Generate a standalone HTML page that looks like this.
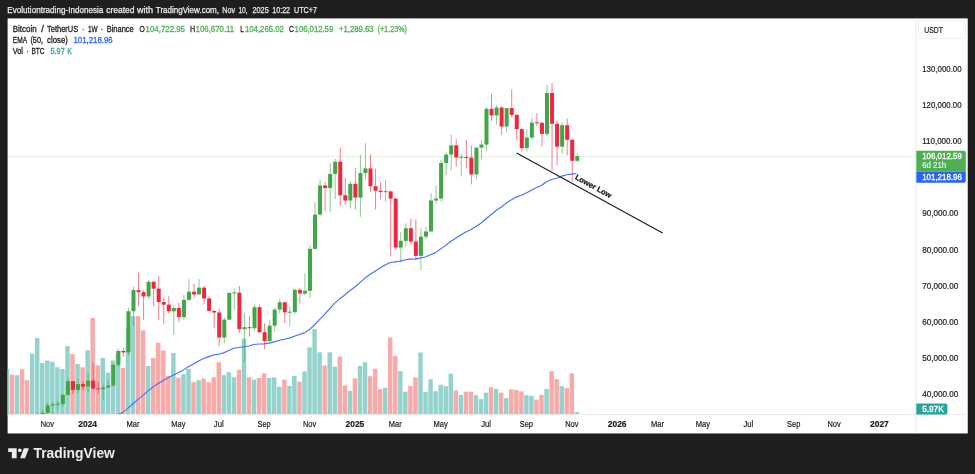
<!DOCTYPE html>
<html lang="en"><head><meta charset="utf-8"><title>BTCUSDT 1W chart</title>
<style>html,body{margin:0;padding:0;background:#1f1f1f;overflow:hidden}svg{display:block}</style></head>
<body>
<svg width="975" height="474" viewBox="0 0 975 474" font-family="'Liberation Sans', sans-serif">
<rect x="0" y="0" width="975" height="474" fill="#1f1f1f"/>
<rect x="7.6" y="18.4" width="960.15" height="415.05" fill="#ffffff"/>
<clipPath id="pane"><rect x="7.6" y="18.4" width="908.4" height="396.1"/></clipPath>
<g clip-path="url(#pane)">
<line x1="7.6" x2="916" y1="156.4" y2="156.4" stroke="#4caf50" stroke-opacity="0.45" stroke-width="0.6" stroke-dasharray="1.7 0.95"/>
<g shape-rendering="auto">
<rect x="4.74" y="369.24" width="4.45" height="45.26" fill="#93d2cd"/>
<rect x="9.78" y="374.72" width="4.45" height="39.78" fill="#f8aaa8"/>
<rect x="14.82" y="375.22" width="4.45" height="39.28" fill="#93d2cd"/>
<rect x="19.87" y="369.24" width="4.45" height="45.26" fill="#f8aaa8"/>
<rect x="24.91" y="380.20" width="4.45" height="34.30" fill="#f8aaa8"/>
<rect x="29.95" y="353.55" width="4.45" height="60.95" fill="#93d2cd"/>
<rect x="35.00" y="338.11" width="4.45" height="76.39" fill="#93d2cd"/>
<rect x="40.04" y="363.01" width="4.45" height="51.49" fill="#93d2cd"/>
<rect x="45.08" y="360.52" width="4.45" height="53.98" fill="#93d2cd"/>
<rect x="50.12" y="361.77" width="4.45" height="52.73" fill="#93d2cd"/>
<rect x="55.17" y="367.25" width="4.45" height="47.25" fill="#93d2cd"/>
<rect x="60.21" y="368.99" width="4.45" height="45.51" fill="#93d2cd"/>
<rect x="65.25" y="346.08" width="4.45" height="68.42" fill="#93d2cd"/>
<rect x="70.30" y="354.05" width="4.45" height="60.45" fill="#f8aaa8"/>
<rect x="75.34" y="364.01" width="4.45" height="50.49" fill="#93d2cd"/>
<rect x="80.38" y="367.25" width="4.45" height="47.25" fill="#f8aaa8"/>
<rect x="85.42" y="350.31" width="4.45" height="64.19" fill="#93d2cd"/>
<rect x="90.47" y="317.93" width="4.45" height="96.57" fill="#f8aaa8"/>
<rect x="95.51" y="365.50" width="4.45" height="49.00" fill="#f8aaa8"/>
<rect x="100.55" y="358.03" width="4.45" height="56.47" fill="#93d2cd"/>
<rect x="105.60" y="372.73" width="4.45" height="41.77" fill="#93d2cd"/>
<rect x="110.64" y="360.52" width="4.45" height="53.98" fill="#93d2cd"/>
<rect x="115.68" y="353.55" width="4.45" height="60.95" fill="#93d2cd"/>
<rect x="120.73" y="368.00" width="4.45" height="46.50" fill="#f8aaa8"/>
<rect x="125.77" y="328.64" width="4.45" height="85.86" fill="#93d2cd"/>
<rect x="130.81" y="316.19" width="4.45" height="98.31" fill="#93d2cd"/>
<rect x="135.85" y="316.19" width="4.45" height="98.31" fill="#f8aaa8"/>
<rect x="140.90" y="330.39" width="4.45" height="84.11" fill="#f8aaa8"/>
<rect x="145.94" y="366.00" width="4.45" height="48.50" fill="#93d2cd"/>
<rect x="150.98" y="358.03" width="4.45" height="56.47" fill="#f8aaa8"/>
<rect x="156.03" y="342.84" width="4.45" height="71.66" fill="#f8aaa8"/>
<rect x="161.07" y="350.56" width="4.45" height="63.94" fill="#f8aaa8"/>
<rect x="166.11" y="375.97" width="4.45" height="38.53" fill="#f8aaa8"/>
<rect x="171.16" y="353.05" width="4.45" height="61.45" fill="#93d2cd"/>
<rect x="176.20" y="377.71" width="4.45" height="36.79" fill="#f8aaa8"/>
<rect x="181.24" y="374.22" width="4.45" height="40.28" fill="#93d2cd"/>
<rect x="186.28" y="368.99" width="4.45" height="45.51" fill="#93d2cd"/>
<rect x="191.33" y="382.19" width="4.45" height="32.31" fill="#f8aaa8"/>
<rect x="196.37" y="380.20" width="4.45" height="34.30" fill="#93d2cd"/>
<rect x="201.41" y="378.46" width="4.45" height="36.04" fill="#f8aaa8"/>
<rect x="206.46" y="382.19" width="4.45" height="32.31" fill="#f8aaa8"/>
<rect x="211.50" y="377.21" width="4.45" height="37.29" fill="#f8aaa8"/>
<rect x="216.54" y="362.27" width="4.45" height="52.23" fill="#f8aaa8"/>
<rect x="221.59" y="375.22" width="4.45" height="39.28" fill="#93d2cd"/>
<rect x="226.63" y="372.23" width="4.45" height="42.27" fill="#93d2cd"/>
<rect x="231.67" y="377.21" width="4.45" height="37.29" fill="#93d2cd"/>
<rect x="236.72" y="369.74" width="4.45" height="44.76" fill="#f8aaa8"/>
<rect x="241.76" y="338.61" width="4.45" height="75.89" fill="#93d2cd"/>
<rect x="246.80" y="377.21" width="4.45" height="37.29" fill="#f8aaa8"/>
<rect x="251.84" y="379.70" width="4.45" height="34.80" fill="#93d2cd"/>
<rect x="256.89" y="377.96" width="4.45" height="36.54" fill="#f8aaa8"/>
<rect x="261.93" y="373.47" width="4.45" height="41.03" fill="#f8aaa8"/>
<rect x="266.97" y="377.96" width="4.45" height="36.54" fill="#93d2cd"/>
<rect x="272.02" y="377.46" width="4.45" height="37.04" fill="#93d2cd"/>
<rect x="277.06" y="386.67" width="4.45" height="27.83" fill="#93d2cd"/>
<rect x="282.10" y="379.70" width="4.45" height="34.80" fill="#f8aaa8"/>
<rect x="287.14" y="385.93" width="4.45" height="28.57" fill="#93d2cd"/>
<rect x="292.19" y="375.97" width="4.45" height="38.53" fill="#93d2cd"/>
<rect x="297.23" y="381.69" width="4.45" height="32.81" fill="#f8aaa8"/>
<rect x="302.27" y="371.48" width="4.45" height="43.02" fill="#93d2cd"/>
<rect x="307.32" y="347.32" width="4.45" height="67.18" fill="#93d2cd"/>
<rect x="312.36" y="329.14" width="4.45" height="85.36" fill="#93d2cd"/>
<rect x="317.40" y="352.30" width="4.45" height="62.20" fill="#93d2cd"/>
<rect x="322.45" y="365.50" width="4.45" height="49.00" fill="#f8aaa8"/>
<rect x="327.49" y="352.30" width="4.45" height="62.20" fill="#93d2cd"/>
<rect x="332.53" y="366.75" width="4.45" height="47.75" fill="#93d2cd"/>
<rect x="337.57" y="356.54" width="4.45" height="57.96" fill="#f8aaa8"/>
<rect x="342.62" y="385.43" width="4.45" height="29.07" fill="#f8aaa8"/>
<rect x="347.66" y="390.91" width="4.45" height="23.59" fill="#93d2cd"/>
<rect x="352.70" y="378.46" width="4.45" height="36.04" fill="#f8aaa8"/>
<rect x="357.75" y="366.00" width="4.45" height="48.50" fill="#93d2cd"/>
<rect x="362.79" y="362.27" width="4.45" height="52.23" fill="#93d2cd"/>
<rect x="367.83" y="376.21" width="4.45" height="38.29" fill="#f8aaa8"/>
<rect x="372.88" y="368.74" width="4.45" height="45.76" fill="#f8aaa8"/>
<rect x="377.92" y="389.17" width="4.45" height="25.33" fill="#f8aaa8"/>
<rect x="382.96" y="387.67" width="4.45" height="26.83" fill="#93d2cd"/>
<rect x="388.00" y="337.36" width="4.45" height="77.14" fill="#f8aaa8"/>
<rect x="393.05" y="356.04" width="4.45" height="58.46" fill="#f8aaa8"/>
<rect x="398.09" y="370.98" width="4.45" height="43.52" fill="#93d2cd"/>
<rect x="403.13" y="391.66" width="4.45" height="22.84" fill="#93d2cd"/>
<rect x="408.18" y="385.93" width="4.45" height="28.57" fill="#f8aaa8"/>
<rect x="413.22" y="377.46" width="4.45" height="37.04" fill="#f8aaa8"/>
<rect x="418.26" y="352.55" width="4.45" height="61.95" fill="#93d2cd"/>
<rect x="423.31" y="392.15" width="4.45" height="22.35" fill="#93d2cd"/>
<rect x="428.35" y="379.20" width="4.45" height="35.30" fill="#93d2cd"/>
<rect x="433.39" y="391.16" width="4.45" height="23.34" fill="#93d2cd"/>
<rect x="438.44" y="384.68" width="4.45" height="29.82" fill="#93d2cd"/>
<rect x="443.48" y="386.18" width="4.45" height="28.32" fill="#93d2cd"/>
<rect x="448.52" y="373.72" width="4.45" height="40.78" fill="#93d2cd"/>
<rect x="453.56" y="390.41" width="4.45" height="24.09" fill="#f8aaa8"/>
<rect x="458.61" y="394.89" width="4.45" height="19.61" fill="#93d2cd"/>
<rect x="463.65" y="391.66" width="4.45" height="22.84" fill="#f8aaa8"/>
<rect x="468.69" y="391.66" width="4.45" height="22.84" fill="#f8aaa8"/>
<rect x="473.74" y="395.14" width="4.45" height="19.36" fill="#93d2cd"/>
<rect x="478.78" y="399.13" width="4.45" height="15.37" fill="#93d2cd"/>
<rect x="483.82" y="392.65" width="4.45" height="21.85" fill="#93d2cd"/>
<rect x="488.87" y="387.17" width="4.45" height="27.33" fill="#f8aaa8"/>
<rect x="493.91" y="388.92" width="4.45" height="25.58" fill="#93d2cd"/>
<rect x="498.95" y="392.65" width="4.45" height="21.85" fill="#f8aaa8"/>
<rect x="503.99" y="398.13" width="4.45" height="16.37" fill="#93d2cd"/>
<rect x="509.04" y="389.41" width="4.45" height="25.09" fill="#f8aaa8"/>
<rect x="514.08" y="389.91" width="4.45" height="24.59" fill="#f8aaa8"/>
<rect x="519.12" y="391.41" width="4.45" height="23.09" fill="#f8aaa8"/>
<rect x="524.17" y="395.14" width="4.45" height="19.36" fill="#93d2cd"/>
<rect x="529.21" y="395.89" width="4.45" height="18.61" fill="#93d2cd"/>
<rect x="534.25" y="399.63" width="4.45" height="14.87" fill="#f8aaa8"/>
<rect x="539.29" y="394.89" width="4.45" height="19.61" fill="#f8aaa8"/>
<rect x="544.34" y="388.92" width="4.45" height="25.58" fill="#93d2cd"/>
<rect x="549.38" y="371.23" width="4.45" height="43.27" fill="#f8aaa8"/>
<rect x="554.42" y="379.20" width="4.45" height="35.30" fill="#f8aaa8"/>
<rect x="559.47" y="386.18" width="4.45" height="28.32" fill="#93d2cd"/>
<rect x="564.51" y="388.17" width="4.45" height="26.33" fill="#f8aaa8"/>
<rect x="569.55" y="373.23" width="4.45" height="41.27" fill="#f8aaa8"/>
<rect x="574.60" y="411.83" width="4.45" height="2.67" fill="#93d2cd"/>
</g>
<line x1="12.45" x2="12.45" y1="441.49" y2="445.50" stroke="#f0263e" stroke-opacity="0.6" stroke-width="1"/>
<rect x="10.45" y="443.55" width="4" height="1.01" fill="#f0263e"/>
<line x1="17.49" x2="17.49" y1="436.42" y2="445.46" stroke="#41a647" stroke-opacity="0.6" stroke-width="1"/>
<rect x="15.49" y="438.27" width="4" height="6.29" fill="#41a647"/>
<line x1="22.54" x2="22.54" y1="436.06" y2="441.31" stroke="#f0263e" stroke-opacity="0.6" stroke-width="1"/>
<rect x="20.54" y="437.89" width="4" height="1.00" fill="#f0263e"/>
<line x1="27.58" x2="27.58" y1="437.15" y2="443.66" stroke="#f0263e" stroke-opacity="0.6" stroke-width="1"/>
<rect x="25.58" y="438.52" width="4" height="2.78" fill="#f0263e"/>
<line x1="32.62" x2="32.62" y1="429.63" y2="441.49" stroke="#41a647" stroke-opacity="0.6" stroke-width="1"/>
<rect x="30.62" y="431.04" width="4" height="10.27" fill="#41a647"/>
<line x1="37.66" x2="37.66" y1="411.91" y2="431.43" stroke="#41a647" stroke-opacity="0.6" stroke-width="1"/>
<rect x="35.66" y="414.73" width="4" height="16.31" fill="#41a647"/>
<line x1="42.71" x2="42.71" y1="409.36" y2="416.32" stroke="#41a647" stroke-opacity="0.6" stroke-width="1"/>
<rect x="40.71" y="412.88" width="4" height="1.85" fill="#41a647"/>
<line x1="47.75" x2="47.75" y1="402.17" y2="414.73" stroke="#41a647" stroke-opacity="0.6" stroke-width="1"/>
<rect x="45.75" y="405.46" width="4" height="7.42" fill="#41a647"/>
<line x1="52.79" x2="52.79" y1="402.14" y2="413.64" stroke="#41a647" stroke-opacity="0.6" stroke-width="1"/>
<rect x="50.79" y="404.39" width="4" height="1.07" fill="#41a647"/>
<line x1="57.84" x2="57.84" y1="400.57" y2="410.63" stroke="#41a647" stroke-opacity="0.6" stroke-width="1"/>
<rect x="55.84" y="403.73" width="4" height="1.00" fill="#41a647"/>
<line x1="62.88" x2="62.88" y1="393.94" y2="406.75" stroke="#41a647" stroke-opacity="0.6" stroke-width="1"/>
<rect x="60.88" y="394.95" width="4" height="9.12" fill="#41a647"/>
<line x1="67.92" x2="67.92" y1="377.84" y2="394.98" stroke="#41a647" stroke-opacity="0.6" stroke-width="1"/>
<rect x="65.92" y="381.14" width="4" height="13.81" fill="#41a647"/>
<line x1="72.97" x2="72.97" y1="381.07" y2="394.04" stroke="#f0263e" stroke-opacity="0.6" stroke-width="1"/>
<rect x="70.97" y="381.14" width="4" height="8.73" fill="#f0263e"/>
<line x1="78.01" x2="78.01" y1="378.94" y2="393.39" stroke="#41a647" stroke-opacity="0.6" stroke-width="1"/>
<rect x="76.01" y="384.02" width="4" height="5.85" fill="#41a647"/>
<line x1="83.05" x2="83.05" y1="381.52" y2="390.14" stroke="#f0263e" stroke-opacity="0.6" stroke-width="1"/>
<rect x="81.05" y="384.02" width="4" height="2.56" fill="#f0263e"/>
<line x1="88.09" x2="88.09" y1="373.58" y2="392.13" stroke="#41a647" stroke-opacity="0.6" stroke-width="1"/>
<rect x="86.09" y="380.63" width="4" height="5.95" fill="#41a647"/>
<line x1="93.14" x2="93.14" y1="362.41" y2="389.42" stroke="#f0263e" stroke-opacity="0.6" stroke-width="1"/>
<rect x="91.14" y="380.63" width="4" height="7.94" fill="#f0263e"/>
<line x1="98.18" x2="98.18" y1="381.90" y2="393.83" stroke="#f0263e" stroke-opacity="0.6" stroke-width="1"/>
<rect x="96.18" y="388.35" width="4" height="1.00" fill="#f0263e"/>
<line x1="103.22" x2="103.22" y1="384.56" y2="400.07" stroke="#41a647" stroke-opacity="0.6" stroke-width="1"/>
<rect x="101.22" y="387.50" width="4" height="1.63" fill="#41a647"/>
<line x1="108.27" x2="108.27" y1="380.80" y2="388.32" stroke="#41a647" stroke-opacity="0.6" stroke-width="1"/>
<rect x="106.27" y="385.50" width="4" height="1.99" fill="#41a647"/>
<line x1="113.31" x2="113.31" y1="363.77" y2="386.68" stroke="#41a647" stroke-opacity="0.6" stroke-width="1"/>
<rect x="111.31" y="364.83" width="4" height="20.67" fill="#41a647"/>
<line x1="118.35" x2="118.35" y1="348.50" y2="366.96" stroke="#41a647" stroke-opacity="0.6" stroke-width="1"/>
<rect x="116.35" y="350.95" width="4" height="13.88" fill="#41a647"/>
<line x1="123.40" x2="123.40" y1="347.89" y2="356.80" stroke="#f0263e" stroke-opacity="0.6" stroke-width="1"/>
<rect x="121.40" y="350.95" width="4" height="1.48" fill="#f0263e"/>
<line x1="128.44" x2="128.44" y1="308.06" y2="355.42" stroke="#41a647" stroke-opacity="0.6" stroke-width="1"/>
<rect x="126.44" y="311.26" width="4" height="41.17" fill="#41a647"/>
<line x1="133.48" x2="133.48" y1="286.40" y2="326.12" stroke="#41a647" stroke-opacity="0.6" stroke-width="1"/>
<rect x="131.48" y="290.14" width="4" height="21.12" fill="#41a647"/>
<line x1="138.53" x2="138.53" y1="272.70" y2="306.13" stroke="#f0263e" stroke-opacity="0.6" stroke-width="1"/>
<rect x="136.53" y="290.14" width="4" height="2.03" fill="#f0263e"/>
<line x1="143.57" x2="143.57" y1="290.27" y2="319.72" stroke="#f0263e" stroke-opacity="0.6" stroke-width="1"/>
<rect x="141.57" y="292.17" width="4" height="4.28" fill="#f0263e"/>
<line x1="148.61" x2="148.61" y1="279.96" y2="299.43" stroke="#41a647" stroke-opacity="0.6" stroke-width="1"/>
<rect x="146.61" y="281.73" width="4" height="14.72" fill="#41a647"/>
<line x1="153.65" x2="153.65" y1="281.42" y2="306.27" stroke="#f0263e" stroke-opacity="0.6" stroke-width="1"/>
<rect x="151.65" y="281.73" width="4" height="6.94" fill="#f0263e"/>
<line x1="158.70" x2="158.70" y1="276.25" y2="320.13" stroke="#f0263e" stroke-opacity="0.6" stroke-width="1"/>
<rect x="156.70" y="288.67" width="4" height="13.38" fill="#f0263e"/>
<line x1="163.74" x2="163.74" y1="297.69" y2="323.97" stroke="#f0263e" stroke-opacity="0.6" stroke-width="1"/>
<rect x="161.74" y="302.05" width="4" height="2.60" fill="#f0263e"/>
<line x1="168.78" x2="168.78" y1="296.37" y2="313.87" stroke="#f0263e" stroke-opacity="0.6" stroke-width="1"/>
<rect x="166.78" y="304.65" width="4" height="6.59" fill="#f0263e"/>
<line x1="173.83" x2="173.83" y1="305.40" y2="334.99" stroke="#41a647" stroke-opacity="0.6" stroke-width="1"/>
<rect x="171.83" y="308.01" width="4" height="3.23" fill="#41a647"/>
<line x1="178.87" x2="178.87" y1="302.63" y2="321.84" stroke="#f0263e" stroke-opacity="0.6" stroke-width="1"/>
<rect x="176.87" y="308.01" width="4" height="9.14" fill="#f0263e"/>
<line x1="183.91" x2="183.91" y1="294.68" y2="319.81" stroke="#41a647" stroke-opacity="0.6" stroke-width="1"/>
<rect x="181.91" y="299.83" width="4" height="17.32" fill="#41a647"/>
<line x1="188.95" x2="188.95" y1="279.20" y2="300.61" stroke="#41a647" stroke-opacity="0.6" stroke-width="1"/>
<rect x="186.95" y="291.76" width="4" height="8.07" fill="#41a647"/>
<line x1="194.00" x2="194.00" y1="283.88" y2="298.40" stroke="#f0263e" stroke-opacity="0.6" stroke-width="1"/>
<rect x="192.00" y="291.76" width="4" height="2.68" fill="#f0263e"/>
<line x1="199.04" x2="199.04" y1="279.14" y2="295.00" stroke="#41a647" stroke-opacity="0.6" stroke-width="1"/>
<rect x="197.04" y="287.63" width="4" height="6.81" fill="#41a647"/>
<line x1="204.08" x2="204.08" y1="285.65" y2="304.16" stroke="#f0263e" stroke-opacity="0.6" stroke-width="1"/>
<rect x="202.08" y="287.63" width="4" height="10.75" fill="#f0263e"/>
<line x1="209.13" x2="209.13" y1="296.13" y2="311.03" stroke="#f0263e" stroke-opacity="0.6" stroke-width="1"/>
<rect x="207.13" y="298.39" width="4" height="12.53" fill="#f0263e"/>
<line x1="214.17" x2="214.17" y1="310.34" y2="328.30" stroke="#f0263e" stroke-opacity="0.6" stroke-width="1"/>
<rect x="212.17" y="310.91" width="4" height="1.58" fill="#f0263e"/>
<line x1="219.21" x2="219.21" y1="308.56" y2="346.08" stroke="#f0263e" stroke-opacity="0.6" stroke-width="1"/>
<rect x="217.21" y="312.50" width="4" height="25.00" fill="#f0263e"/>
<line x1="224.26" x2="224.26" y1="317.39" y2="343.28" stroke="#41a647" stroke-opacity="0.6" stroke-width="1"/>
<rect x="222.26" y="319.64" width="4" height="17.86" fill="#41a647"/>
<line x1="229.30" x2="229.30" y1="292.27" y2="320.23" stroke="#41a647" stroke-opacity="0.6" stroke-width="1"/>
<rect x="227.30" y="293.00" width="4" height="26.64" fill="#41a647"/>
<line x1="234.34" x2="234.34" y1="288.53" y2="310.02" stroke="#41a647" stroke-opacity="0.6" stroke-width="1"/>
<rect x="232.34" y="292.34" width="4" height="1.00" fill="#41a647"/>
<line x1="239.38" x2="239.38" y1="286.07" y2="332.93" stroke="#f0263e" stroke-opacity="0.6" stroke-width="1"/>
<rect x="237.38" y="292.69" width="4" height="36.48" fill="#f0263e"/>
<line x1="244.43" x2="244.43" y1="312.59" y2="362.30" stroke="#41a647" stroke-opacity="0.6" stroke-width="1"/>
<rect x="242.43" y="327.18" width="4" height="1.99" fill="#41a647"/>
<line x1="249.47" x2="249.47" y1="316.01" y2="336.70" stroke="#f0263e" stroke-opacity="0.6" stroke-width="1"/>
<rect x="247.47" y="327.18" width="4" height="1.03" fill="#f0263e"/>
<line x1="254.51" x2="254.51" y1="304.60" y2="330.52" stroke="#41a647" stroke-opacity="0.6" stroke-width="1"/>
<rect x="252.51" y="307.26" width="4" height="20.95" fill="#41a647"/>
<line x1="259.56" x2="259.56" y1="304.44" y2="332.64" stroke="#f0263e" stroke-opacity="0.6" stroke-width="1"/>
<rect x="257.56" y="307.26" width="4" height="25.02" fill="#f0263e"/>
<line x1="264.60" x2="264.60" y1="323.21" y2="349.46" stroke="#f0263e" stroke-opacity="0.6" stroke-width="1"/>
<rect x="262.60" y="332.28" width="4" height="8.79" fill="#f0263e"/>
<line x1="269.64" x2="269.64" y1="320.26" y2="342.08" stroke="#41a647" stroke-opacity="0.6" stroke-width="1"/>
<rect x="267.64" y="325.66" width="4" height="15.42" fill="#41a647"/>
<line x1="274.69" x2="274.69" y1="307.58" y2="331.59" stroke="#41a647" stroke-opacity="0.6" stroke-width="1"/>
<rect x="272.69" y="309.58" width="4" height="16.08" fill="#41a647"/>
<line x1="279.73" x2="279.73" y1="299.02" y2="313.34" stroke="#41a647" stroke-opacity="0.6" stroke-width="1"/>
<rect x="277.73" y="302.26" width="4" height="7.32" fill="#41a647"/>
<line x1="284.77" x2="284.77" y1="302.21" y2="323.14" stroke="#f0263e" stroke-opacity="0.6" stroke-width="1"/>
<rect x="282.77" y="302.26" width="4" height="10.06" fill="#f0263e"/>
<line x1="289.81" x2="289.81" y1="306.33" y2="326.33" stroke="#41a647" stroke-opacity="0.6" stroke-width="1"/>
<rect x="287.81" y="311.73" width="4" height="1.00" fill="#41a647"/>
<line x1="294.86" x2="294.86" y1="288.53" y2="313.64" stroke="#41a647" stroke-opacity="0.6" stroke-width="1"/>
<rect x="292.86" y="289.86" width="4" height="22.28" fill="#41a647"/>
<line x1="299.90" x2="299.90" y1="288.10" y2="303.50" stroke="#f0263e" stroke-opacity="0.6" stroke-width="1"/>
<rect x="297.90" y="289.86" width="4" height="3.65" fill="#f0263e"/>
<line x1="304.94" x2="304.94" y1="273.27" y2="295.48" stroke="#41a647" stroke-opacity="0.6" stroke-width="1"/>
<rect x="302.94" y="290.79" width="4" height="2.73" fill="#41a647"/>
<line x1="309.99" x2="309.99" y1="244.78" y2="297.80" stroke="#41a647" stroke-opacity="0.6" stroke-width="1"/>
<rect x="307.99" y="248.86" width="4" height="41.93" fill="#41a647"/>
<line x1="315.03" x2="315.03" y1="202.23" y2="249.42" stroke="#41a647" stroke-opacity="0.6" stroke-width="1"/>
<rect x="313.03" y="214.56" width="4" height="34.30" fill="#41a647"/>
<line x1="320.07" x2="320.07" y1="179.37" y2="216.30" stroke="#41a647" stroke-opacity="0.6" stroke-width="1"/>
<rect x="318.07" y="185.47" width="4" height="29.09" fill="#41a647"/>
<line x1="325.12" x2="325.12" y1="181.96" y2="211.18" stroke="#f0263e" stroke-opacity="0.6" stroke-width="1"/>
<rect x="323.12" y="185.47" width="4" height="2.59" fill="#f0263e"/>
<line x1="330.16" x2="330.16" y1="163.10" y2="212.23" stroke="#41a647" stroke-opacity="0.6" stroke-width="1"/>
<rect x="328.16" y="173.87" width="4" height="14.19" fill="#41a647"/>
<line x1="335.20" x2="335.20" y1="158.90" y2="199.03" stroke="#41a647" stroke-opacity="0.6" stroke-width="1"/>
<rect x="333.20" y="161.74" width="4" height="12.13" fill="#41a647"/>
<line x1="340.25" x2="340.25" y1="147.68" y2="205.97" stroke="#f0263e" stroke-opacity="0.6" stroke-width="1"/>
<rect x="338.25" y="161.74" width="4" height="33.55" fill="#f0263e"/>
<line x1="345.29" x2="345.29" y1="178.01" y2="204.93" stroke="#f0263e" stroke-opacity="0.6" stroke-width="1"/>
<rect x="343.29" y="195.29" width="4" height="5.24" fill="#f0263e"/>
<line x1="350.33" x2="350.33" y1="181.58" y2="208.51" stroke="#41a647" stroke-opacity="0.6" stroke-width="1"/>
<rect x="348.33" y="183.80" width="4" height="16.72" fill="#41a647"/>
<line x1="355.37" x2="355.37" y1="168.03" y2="209.69" stroke="#f0263e" stroke-opacity="0.6" stroke-width="1"/>
<rect x="353.37" y="183.80" width="4" height="13.81" fill="#f0263e"/>
<line x1="360.42" x2="360.42" y1="154.66" y2="216.73" stroke="#41a647" stroke-opacity="0.6" stroke-width="1"/>
<rect x="358.42" y="173.07" width="4" height="24.54" fill="#41a647"/>
<line x1="365.46" x2="365.46" y1="143.21" y2="179.51" stroke="#41a647" stroke-opacity="0.6" stroke-width="1"/>
<rect x="363.46" y="168.41" width="4" height="4.66" fill="#41a647"/>
<line x1="370.50" x2="370.50" y1="154.53" y2="191.80" stroke="#f0263e" stroke-opacity="0.6" stroke-width="1"/>
<rect x="368.50" y="168.41" width="4" height="17.79" fill="#f0263e"/>
<line x1="375.55" x2="375.55" y1="168.84" y2="209.59" stroke="#f0263e" stroke-opacity="0.6" stroke-width="1"/>
<rect x="373.55" y="186.20" width="4" height="4.48" fill="#f0263e"/>
<line x1="380.59" x2="380.59" y1="182.13" y2="199.25" stroke="#f0263e" stroke-opacity="0.6" stroke-width="1"/>
<rect x="378.59" y="190.67" width="4" height="1.24" fill="#f0263e"/>
<line x1="385.63" x2="385.63" y1="179.78" y2="201.79" stroke="#41a647" stroke-opacity="0.6" stroke-width="1"/>
<rect x="383.63" y="191.16" width="4" height="1.00" fill="#41a647"/>
<line x1="390.68" x2="390.68" y1="190.54" y2="256.50" stroke="#f0263e" stroke-opacity="0.6" stroke-width="1"/>
<rect x="388.68" y="191.41" width="4" height="7.19" fill="#f0263e"/>
<line x1="395.72" x2="395.72" y1="198.07" y2="250.01" stroke="#f0263e" stroke-opacity="0.6" stroke-width="1"/>
<rect x="393.72" y="198.60" width="4" height="48.95" fill="#f0263e"/>
<line x1="400.76" x2="400.76" y1="231.76" y2="262.47" stroke="#41a647" stroke-opacity="0.6" stroke-width="1"/>
<rect x="398.76" y="240.89" width="4" height="6.65" fill="#41a647"/>
<line x1="405.80" x2="405.80" y1="223.25" y2="246.10" stroke="#41a647" stroke-opacity="0.6" stroke-width="1"/>
<rect x="403.80" y="228.21" width="4" height="12.68" fill="#41a647"/>
<line x1="410.85" x2="410.85" y1="218.51" y2="244.54" stroke="#f0263e" stroke-opacity="0.6" stroke-width="1"/>
<rect x="408.85" y="228.21" width="4" height="13.35" fill="#f0263e"/>
<line x1="415.89" x2="415.89" y1="219.46" y2="260.49" stroke="#f0263e" stroke-opacity="0.6" stroke-width="1"/>
<rect x="413.89" y="241.56" width="4" height="14.32" fill="#f0263e"/>
<line x1="420.93" x2="420.93" y1="228.14" y2="270.06" stroke="#41a647" stroke-opacity="0.6" stroke-width="1"/>
<rect x="418.93" y="236.60" width="4" height="19.27" fill="#41a647"/>
<line x1="425.98" x2="425.98" y1="226.71" y2="238.95" stroke="#41a647" stroke-opacity="0.6" stroke-width="1"/>
<rect x="423.98" y="231.47" width="4" height="5.13" fill="#41a647"/>
<line x1="431.02" x2="431.02" y1="193.22" y2="231.60" stroke="#41a647" stroke-opacity="0.6" stroke-width="1"/>
<rect x="429.02" y="200.48" width="4" height="30.99" fill="#41a647"/>
<line x1="436.06" x2="436.06" y1="185.49" y2="203.92" stroke="#41a647" stroke-opacity="0.6" stroke-width="1"/>
<rect x="434.06" y="198.57" width="4" height="1.91" fill="#41a647"/>
<line x1="441.11" x2="441.11" y1="159.86" y2="201.83" stroke="#41a647" stroke-opacity="0.6" stroke-width="1"/>
<rect x="439.11" y="162.99" width="4" height="35.59" fill="#41a647"/>
<line x1="446.15" x2="446.15" y1="152.18" y2="175.28" stroke="#41a647" stroke-opacity="0.6" stroke-width="1"/>
<rect x="444.15" y="154.54" width="4" height="8.45" fill="#41a647"/>
<line x1="451.19" x2="451.19" y1="134.56" y2="170.65" stroke="#41a647" stroke-opacity="0.6" stroke-width="1"/>
<rect x="449.19" y="145.32" width="4" height="9.22" fill="#41a647"/>
<line x1="456.23" x2="456.23" y1="139.12" y2="166.79" stroke="#f0263e" stroke-opacity="0.6" stroke-width="1"/>
<rect x="454.23" y="145.32" width="4" height="12.16" fill="#f0263e"/>
<line x1="461.28" x2="461.28" y1="153.31" y2="176.53" stroke="#41a647" stroke-opacity="0.6" stroke-width="1"/>
<rect x="459.28" y="156.81" width="4" height="1.00" fill="#41a647"/>
<line x1="466.32" x2="466.32" y1="139.80" y2="168.25" stroke="#f0263e" stroke-opacity="0.6" stroke-width="1"/>
<rect x="464.32" y="156.90" width="4" height="1.00" fill="#f0263e"/>
<line x1="471.36" x2="471.36" y1="145.51" y2="184.39" stroke="#f0263e" stroke-opacity="0.6" stroke-width="1"/>
<rect x="469.36" y="157.65" width="4" height="16.75" fill="#f0263e"/>
<line x1="476.41" x2="476.41" y1="147.04" y2="179.28" stroke="#41a647" stroke-opacity="0.6" stroke-width="1"/>
<rect x="474.41" y="147.66" width="4" height="26.73" fill="#41a647"/>
<line x1="481.45" x2="481.45" y1="139.81" y2="159.44" stroke="#41a647" stroke-opacity="0.6" stroke-width="1"/>
<rect x="479.45" y="144.60" width="4" height="3.06" fill="#41a647"/>
<line x1="486.49" x2="486.49" y1="107.41" y2="151.02" stroke="#41a647" stroke-opacity="0.6" stroke-width="1"/>
<rect x="484.49" y="108.87" width="4" height="35.74" fill="#41a647"/>
<line x1="491.54" x2="491.54" y1="93.92" y2="120.98" stroke="#f0263e" stroke-opacity="0.6" stroke-width="1"/>
<rect x="489.54" y="108.87" width="4" height="6.58" fill="#f0263e"/>
<line x1="496.58" x2="496.58" y1="105.15" y2="124.64" stroke="#41a647" stroke-opacity="0.6" stroke-width="1"/>
<rect x="494.58" y="107.56" width="4" height="7.89" fill="#41a647"/>
<line x1="501.62" x2="501.62" y1="106.28" y2="134.78" stroke="#f0263e" stroke-opacity="0.6" stroke-width="1"/>
<rect x="499.62" y="107.56" width="4" height="18.95" fill="#f0263e"/>
<line x1="506.66" x2="506.66" y1="108.05" y2="132.14" stroke="#41a647" stroke-opacity="0.6" stroke-width="1"/>
<rect x="504.66" y="108.11" width="4" height="18.39" fill="#41a647"/>
<line x1="511.71" x2="511.71" y1="89.38" y2="117.12" stroke="#f0263e" stroke-opacity="0.6" stroke-width="1"/>
<rect x="509.71" y="108.11" width="4" height="6.83" fill="#f0263e"/>
<line x1="516.75" x2="516.75" y1="114.44" y2="139.26" stroke="#f0263e" stroke-opacity="0.6" stroke-width="1"/>
<rect x="514.75" y="114.94" width="4" height="14.15" fill="#f0263e"/>
<line x1="521.79" x2="521.79" y1="128.46" y2="151.30" stroke="#f0263e" stroke-opacity="0.6" stroke-width="1"/>
<rect x="519.79" y="129.09" width="4" height="18.97" fill="#f0263e"/>
<line x1="526.84" x2="526.84" y1="129.48" y2="151.65" stroke="#41a647" stroke-opacity="0.6" stroke-width="1"/>
<rect x="524.84" y="137.58" width="4" height="10.48" fill="#41a647"/>
<line x1="531.88" x2="531.88" y1="117.62" y2="139.47" stroke="#41a647" stroke-opacity="0.6" stroke-width="1"/>
<rect x="529.88" y="122.67" width="4" height="14.91" fill="#41a647"/>
<line x1="536.92" x2="536.92" y1="113.15" y2="125.87" stroke="#f0263e" stroke-opacity="0.6" stroke-width="1"/>
<rect x="534.92" y="122.24" width="4" height="1.00" fill="#f0263e"/>
<line x1="541.97" x2="541.97" y1="122.27" y2="146.71" stroke="#f0263e" stroke-opacity="0.6" stroke-width="1"/>
<rect x="539.97" y="122.80" width="4" height="11.10" fill="#f0263e"/>
<line x1="547.01" x2="547.01" y1="84.92" y2="136.08" stroke="#41a647" stroke-opacity="0.6" stroke-width="1"/>
<rect x="545.01" y="92.97" width="4" height="40.93" fill="#41a647"/>
<line x1="552.05" x2="552.05" y1="83.14" y2="170.65" stroke="#f0263e" stroke-opacity="0.6" stroke-width="1"/>
<rect x="550.05" y="92.97" width="4" height="30.82" fill="#f0263e"/>
<line x1="557.09" x2="557.09" y1="120.16" y2="165.17" stroke="#f0263e" stroke-opacity="0.6" stroke-width="1"/>
<rect x="555.09" y="123.79" width="4" height="22.84" fill="#f0263e"/>
<line x1="562.14" x2="562.14" y1="121.95" y2="153.78" stroke="#41a647" stroke-opacity="0.6" stroke-width="1"/>
<rect x="560.14" y="125.23" width="4" height="21.40" fill="#41a647"/>
<line x1="567.18" x2="567.18" y1="118.58" y2="155.08" stroke="#f0263e" stroke-opacity="0.6" stroke-width="1"/>
<rect x="565.18" y="125.23" width="4" height="14.53" fill="#f0263e"/>
<line x1="572.22" x2="572.22" y1="138.86" y2="181.70" stroke="#f0263e" stroke-opacity="0.6" stroke-width="1"/>
<rect x="570.22" y="139.77" width="4" height="21.04" fill="#f0263e"/>
<line x1="577.27" x2="577.27" y1="153.76" y2="162.46" stroke="#41a647" stroke-opacity="0.6" stroke-width="1"/>
<rect x="575.27" y="156.14" width="4" height="4.67" fill="#41a647"/>
<polyline points="87.55,425.09 92.59,423.66 97.63,422.31 102.67,420.94 107.72,419.55 112.76,417.41 117.80,414.80 122.85,412.35 127.89,408.39 132.93,403.75 137.97,399.38 143.02,395.34 148.06,390.89 153.10,386.88 158.15,383.55 163.19,380.46 168.23,377.74 173.28,375.01 178.32,372.74 183.36,369.88 188.40,366.82 193.45,363.98 198.49,360.98 203.53,358.53 208.58,356.66 213.62,354.93 218.66,354.25 223.71,352.89 228.75,350.54 233.79,348.27 238.83,347.52 243.88,346.73 248.92,346.00 253.96,344.48 259.01,344.00 264.05,343.89 269.09,343.17 274.14,341.85 279.18,340.30 284.22,339.20 289.26,338.14 294.31,336.25 299.35,334.57 304.39,332.86 309.44,329.56 314.48,325.05 319.52,319.58 324.57,314.42 329.61,308.91 334.65,303.14 339.69,298.91 344.74,295.05 349.78,290.69 354.82,287.04 359.87,282.57 364.91,278.09 369.95,274.49 375.00,271.20 380.04,268.09 385.08,265.08 390.12,262.48 395.17,261.89 400.21,261.07 405.25,259.78 410.30,259.07 415.34,258.94 420.38,258.06 425.43,257.02 430.47,254.80 435.51,252.60 440.56,249.09 445.60,245.38 450.64,241.45 455.68,238.16 460.73,234.98 465.77,231.95 470.81,229.69 475.86,226.48 480.90,223.27 485.94,218.78 490.99,214.73 496.03,210.53 501.07,207.23 506.11,203.34 511.16,199.88 516.20,197.10 521.24,195.18 526.29,192.92 531.33,190.16 536.37,187.52 541.42,185.42 546.46,181.79 551.50,179.52 556.54,178.23 561.59,176.15 566.63,174.72 571.67,174.18 576.72,173.47" fill="none" stroke="#4070ff" stroke-width="1.15" stroke-linejoin="round"/>
<line x1="516.6" y1="152.95" x2="662.6" y2="233.1" stroke="#1c1c1c" stroke-width="1.15"/>
<text transform="translate(574.4,178.7) rotate(28.8)" font-size="7.6" font-weight="bold" fill="#161616" stroke="#161616" stroke-width="0.25" textLength="40.3" lengthAdjust="spacingAndGlyphs">Lower Low</text>
</g>
<line x1="915.9" x2="915.9" y1="18.4" y2="433.45" stroke="#ebebee" stroke-width="1"/>
<line x1="7.6" x2="967.75" y1="414.5" y2="414.5" stroke="#ebebee" stroke-width="1"/>
<text x="922.2" y="397.19" font-size="8.5" fill="#222" stroke="#222" stroke-width="0.2" textLength="36.0" lengthAdjust="spacingAndGlyphs">40,000.00</text>
<text x="922.2" y="361.03" font-size="8.5" fill="#222" stroke="#222" stroke-width="0.2" textLength="36.0" lengthAdjust="spacingAndGlyphs">50,000.00</text>
<text x="922.2" y="324.87" font-size="8.5" fill="#222" stroke="#222" stroke-width="0.2" textLength="36.0" lengthAdjust="spacingAndGlyphs">60,000.00</text>
<text x="922.2" y="288.71" font-size="8.5" fill="#222" stroke="#222" stroke-width="0.2" textLength="36.0" lengthAdjust="spacingAndGlyphs">70,000.00</text>
<text x="922.2" y="252.55" font-size="8.5" fill="#222" stroke="#222" stroke-width="0.2" textLength="36.0" lengthAdjust="spacingAndGlyphs">80,000.00</text>
<text x="922.2" y="216.39" font-size="8.5" fill="#222" stroke="#222" stroke-width="0.2" textLength="36.0" lengthAdjust="spacingAndGlyphs">90,000.00</text>
<text x="922.2" y="144.07" font-size="8.5" fill="#222" stroke="#222" stroke-width="0.2" textLength="39.4" lengthAdjust="spacingAndGlyphs">110,000.00</text>
<text x="922.2" y="107.91" font-size="8.5" fill="#222" stroke="#222" stroke-width="0.2" textLength="39.4" lengthAdjust="spacingAndGlyphs">120,000.00</text>
<text x="922.2" y="71.75" font-size="8.5" fill="#222" stroke="#222" stroke-width="0.2" textLength="39.4" lengthAdjust="spacingAndGlyphs">130,000.00</text>
<rect x="918.5" y="21.0" width="47.0" height="17.4" rx="2.2" ry="2.2" fill="#ffffff" stroke="#ebebee" stroke-width="0.8"/>
<text x="924.3" y="32.7" font-size="8.8" fill="#222" stroke="#222" stroke-width="0.2" textLength="18.6" lengthAdjust="spacingAndGlyphs">USDT</text>
<path d="M916.3 150.7 H963.8 Q965.8 150.7 965.8 152.7 V171.6 H916.3 Z" fill="#4caf50"/>
<path d="M916.3 171.6 H965.8 V180.7 Q965.8 182.7 963.8 182.7 H916.3 Z" fill="#2962ff"/>
<text x="922.2" y="158.75" font-size="8.5" fill="#ffffff" stroke="#ffffff" stroke-width="0.35" textLength="39.6" lengthAdjust="spacingAndGlyphs">106,012.59</text>
<text x="922.2" y="168.4" font-size="8.5" fill="#eaf6ea" stroke="#eaf6ea" stroke-width="0.15" textLength="24" lengthAdjust="spacingAndGlyphs">6d 21h</text>
<text x="922.2" y="180.0" font-size="8.5" fill="#ffffff" stroke="#ffffff" stroke-width="0.35" textLength="39.6" lengthAdjust="spacingAndGlyphs">101,218.96</text>
<path d="M916.3 403.4 H945.4 Q947.4 403.4 947.4 405.4 V412.4 Q947.4 414.4 945.4 414.4 H916.3 Z" fill="#26a69a"/>
<text x="922.2" y="411.9" font-size="8.5" fill="#ffffff" stroke="#ffffff" stroke-width="0.35" textLength="21.5" lengthAdjust="spacingAndGlyphs">5.97K</text>
<text x="47.30" y="427.0" font-size="8.5" text-anchor="middle" fill="#222" stroke="#222" stroke-width="0.2" textLength="13.2" lengthAdjust="spacingAndGlyphs">Nov</text>
<text x="87.64" y="427.0" font-size="8.5" text-anchor="middle" fill="#222" stroke="#222" stroke-width="0.2" font-weight="bold" textLength="18.8" lengthAdjust="spacingAndGlyphs">2024</text>
<text x="133.03" y="427.0" font-size="8.5" text-anchor="middle" fill="#222" stroke="#222" stroke-width="0.2" textLength="12.9" lengthAdjust="spacingAndGlyphs">Mar</text>
<text x="178.42" y="427.0" font-size="8.5" text-anchor="middle" fill="#222" stroke="#222" stroke-width="0.2" textLength="14.2" lengthAdjust="spacingAndGlyphs">May</text>
<text x="218.76" y="427.0" font-size="8.5" text-anchor="middle" fill="#222" stroke="#222" stroke-width="0.2" textLength="9.8" lengthAdjust="spacingAndGlyphs">Jul</text>
<text x="264.15" y="427.0" font-size="8.5" text-anchor="middle" fill="#222" stroke="#222" stroke-width="0.2" textLength="13.2" lengthAdjust="spacingAndGlyphs">Sep</text>
<text x="309.54" y="427.0" font-size="8.5" text-anchor="middle" fill="#222" stroke="#222" stroke-width="0.2" textLength="13.2" lengthAdjust="spacingAndGlyphs">Nov</text>
<text x="354.92" y="427.0" font-size="8.5" text-anchor="middle" fill="#222" stroke="#222" stroke-width="0.2" font-weight="bold" textLength="18.8" lengthAdjust="spacingAndGlyphs">2025</text>
<text x="395.27" y="427.0" font-size="8.5" text-anchor="middle" fill="#222" stroke="#222" stroke-width="0.2" textLength="12.9" lengthAdjust="spacingAndGlyphs">Mar</text>
<text x="440.66" y="427.0" font-size="8.5" text-anchor="middle" fill="#222" stroke="#222" stroke-width="0.2" textLength="14.2" lengthAdjust="spacingAndGlyphs">May</text>
<text x="486.04" y="427.0" font-size="8.5" text-anchor="middle" fill="#222" stroke="#222" stroke-width="0.2" textLength="9.8" lengthAdjust="spacingAndGlyphs">Jul</text>
<text x="526.39" y="427.0" font-size="8.5" text-anchor="middle" fill="#222" stroke="#222" stroke-width="0.2" textLength="13.2" lengthAdjust="spacingAndGlyphs">Sep</text>
<text x="571.77" y="427.0" font-size="8.5" text-anchor="middle" fill="#222" stroke="#222" stroke-width="0.2" textLength="13.2" lengthAdjust="spacingAndGlyphs">Nov</text>
<text x="617.16" y="427.0" font-size="8.5" text-anchor="middle" fill="#222" stroke="#222" stroke-width="0.2" font-weight="bold" textLength="18.8" lengthAdjust="spacingAndGlyphs">2026</text>
<text x="657.50" y="427.0" font-size="8.5" text-anchor="middle" fill="#222" stroke="#222" stroke-width="0.2" textLength="12.9" lengthAdjust="spacingAndGlyphs">Mar</text>
<text x="702.89" y="427.0" font-size="8.5" text-anchor="middle" fill="#222" stroke="#222" stroke-width="0.2" textLength="14.2" lengthAdjust="spacingAndGlyphs">May</text>
<text x="748.28" y="427.0" font-size="8.5" text-anchor="middle" fill="#222" stroke="#222" stroke-width="0.2" textLength="9.8" lengthAdjust="spacingAndGlyphs">Jul</text>
<text x="793.67" y="427.0" font-size="8.5" text-anchor="middle" fill="#222" stroke="#222" stroke-width="0.2" textLength="13.2" lengthAdjust="spacingAndGlyphs">Sep</text>
<text x="834.01" y="427.0" font-size="8.5" text-anchor="middle" fill="#222" stroke="#222" stroke-width="0.2" textLength="13.2" lengthAdjust="spacingAndGlyphs">Nov</text>
<text x="879.40" y="427.0" font-size="8.5" text-anchor="middle" fill="#222" stroke="#222" stroke-width="0.2" font-weight="bold" textLength="18.8" lengthAdjust="spacingAndGlyphs">2027</text>
<text y="13.3" font-size="8.9" fill="#ececec" stroke="#ececec" stroke-width="0.25"><tspan x="7.3" textLength="96.0" lengthAdjust="spacingAndGlyphs">Evolutiontrading-Indonesia</tspan> <tspan x="106.2" textLength="28.3" lengthAdjust="spacingAndGlyphs">created</tspan> <tspan x="137.0" textLength="16.2" lengthAdjust="spacingAndGlyphs">with</tspan> <tspan x="155.8" textLength="63.2" lengthAdjust="spacingAndGlyphs">TradingView.com,</tspan> <tspan x="222.3" textLength="12.8" lengthAdjust="spacingAndGlyphs">Nov</tspan> <tspan x="238.4" textLength="9.2" lengthAdjust="spacingAndGlyphs">10,</tspan> <tspan x="252.5" textLength="16.2" lengthAdjust="spacingAndGlyphs">2025</tspan> <tspan x="272.2" textLength="17.9" lengthAdjust="spacingAndGlyphs">10:22</tspan> <tspan x="294.0" textLength="23.0" lengthAdjust="spacingAndGlyphs">UTC+7</tspan></text>
<text x="12.75" y="31.65" font-size="8.9" fill="#1c1c1c" stroke="#1c1c1c" stroke-width="0.3" textLength="24.0" lengthAdjust="spacingAndGlyphs">Bitcoin</text>
<text x="41.2" y="31.65" font-size="8.9" fill="#1c1c1c" stroke="#1c1c1c" stroke-width="0.3" textLength="2.6" lengthAdjust="spacingAndGlyphs">/</text>
<text x="47.0" y="31.65" font-size="8.9" fill="#1c1c1c" stroke="#1c1c1c" stroke-width="0.3" textLength="31.2" lengthAdjust="spacingAndGlyphs">TetherUS</text>
<text x="82.2" y="31.65" font-size="8.9" fill="#1c1c1c" stroke="#1c1c1c" stroke-width="0.3" textLength="1.8" lengthAdjust="spacingAndGlyphs">·</text>
<text x="87.9" y="31.65" font-size="8.9" fill="#1c1c1c" stroke="#1c1c1c" stroke-width="0.3" textLength="9.7" lengthAdjust="spacingAndGlyphs">1W</text>
<text x="101.1" y="31.65" font-size="8.9" fill="#1c1c1c" stroke="#1c1c1c" stroke-width="0.3" textLength="1.8" lengthAdjust="spacingAndGlyphs">·</text>
<text x="106.7" y="31.65" font-size="8.9" fill="#1c1c1c" stroke="#1c1c1c" stroke-width="0.3" textLength="27.1" lengthAdjust="spacingAndGlyphs">Binance</text>
<text x="139.5" y="31.65" font-size="8.9" fill="#1c1c1c" stroke="#1c1c1c" stroke-width="0.3" textLength="5.3" lengthAdjust="spacingAndGlyphs">O</text>
<text x="145.6" y="31.65" font-size="8.9" fill="#4caf50" stroke="#4caf50" stroke-width="0.3" textLength="39.4" lengthAdjust="spacingAndGlyphs">104,722.95</text>
<text x="189.9" y="31.65" font-size="8.9" fill="#1c1c1c" stroke="#1c1c1c" stroke-width="0.3" textLength="5.2" lengthAdjust="spacingAndGlyphs">H</text>
<text x="195.6" y="31.65" font-size="8.9" fill="#4caf50" stroke="#4caf50" stroke-width="0.3" textLength="38.6" lengthAdjust="spacingAndGlyphs">106,670.11</text>
<text x="240.3" y="31.65" font-size="8.9" fill="#1c1c1c" stroke="#1c1c1c" stroke-width="0.3" textLength="3.5" lengthAdjust="spacingAndGlyphs">L</text>
<text x="244.9" y="31.65" font-size="8.9" fill="#4caf50" stroke="#4caf50" stroke-width="0.3" textLength="39.0" lengthAdjust="spacingAndGlyphs">104,265.02</text>
<text x="288.9" y="31.65" font-size="8.9" fill="#1c1c1c" stroke="#1c1c1c" stroke-width="0.3" textLength="4.9" lengthAdjust="spacingAndGlyphs">C</text>
<text x="294.6" y="31.65" font-size="8.9" fill="#4caf50" stroke="#4caf50" stroke-width="0.3" textLength="38.6" lengthAdjust="spacingAndGlyphs">106,012.59</text>
<text x="338.9" y="31.65" font-size="8.9" fill="#4caf50" stroke="#4caf50" stroke-width="0.3" textLength="34.8" lengthAdjust="spacingAndGlyphs">+1,289.63</text>
<text x="377.5" y="31.65" font-size="8.9" fill="#4caf50" stroke="#4caf50" stroke-width="0.3" textLength="29.5" lengthAdjust="spacingAndGlyphs">(+1.23%)</text>
<text x="12.75" y="43.0" font-size="8.9" fill="#1c1c1c" stroke="#1c1c1c" stroke-width="0.3" textLength="14.3" lengthAdjust="spacingAndGlyphs">EMA</text>
<text x="30.4" y="43.0" font-size="8.9" fill="#1c1c1c" stroke="#1c1c1c" stroke-width="0.3" textLength="12.6" lengthAdjust="spacingAndGlyphs">(50,</text>
<text x="47.1" y="43.0" font-size="8.9" fill="#1c1c1c" stroke="#1c1c1c" stroke-width="0.3" textLength="20.7" lengthAdjust="spacingAndGlyphs">close)</text>
<text x="73.5" y="43.0" font-size="8.9" fill="#2962ff" stroke="#2962ff" stroke-width="0.3" textLength="39.2" lengthAdjust="spacingAndGlyphs">101,218.96</text>
<text x="12.75" y="54.45" font-size="8.9" fill="#1c1c1c" stroke="#1c1c1c" stroke-width="0.3" textLength="10.2" lengthAdjust="spacingAndGlyphs">Vol</text>
<text x="26.4" y="54.45" font-size="8.9" fill="#1c1c1c" stroke="#1c1c1c" stroke-width="0.3" textLength="1.8" lengthAdjust="spacingAndGlyphs">·</text>
<text x="31.5" y="54.45" font-size="8.9" fill="#1c1c1c" stroke="#1c1c1c" stroke-width="0.3" textLength="13.1" lengthAdjust="spacingAndGlyphs">BTC</text>
<text x="50.5" y="54.45" font-size="8.9" fill="#26a69a" stroke="#26a69a" stroke-width="0.3" textLength="14.3" lengthAdjust="spacingAndGlyphs">5.97</text>
<text x="67.3" y="54.45" font-size="8.9" fill="#26a69a" stroke="#26a69a" stroke-width="0.3" textLength="4.6" lengthAdjust="spacingAndGlyphs">K</text>
<g fill="#ececec"><path d="M8.2 448.3H16.65V458.25H11.8V452.1H8.2Z"/><circle cx="19.8" cy="450.25" r="1.85"/><path d="M23.8 448.3H28.9L25.1 458.25H20.2Z"/></g>
<text x="33.5" y="458.1" font-size="13.8" font-weight="bold" fill="#ececec" textLength="81.4" lengthAdjust="spacingAndGlyphs">TradingView</text>
</svg>
</body></html>
